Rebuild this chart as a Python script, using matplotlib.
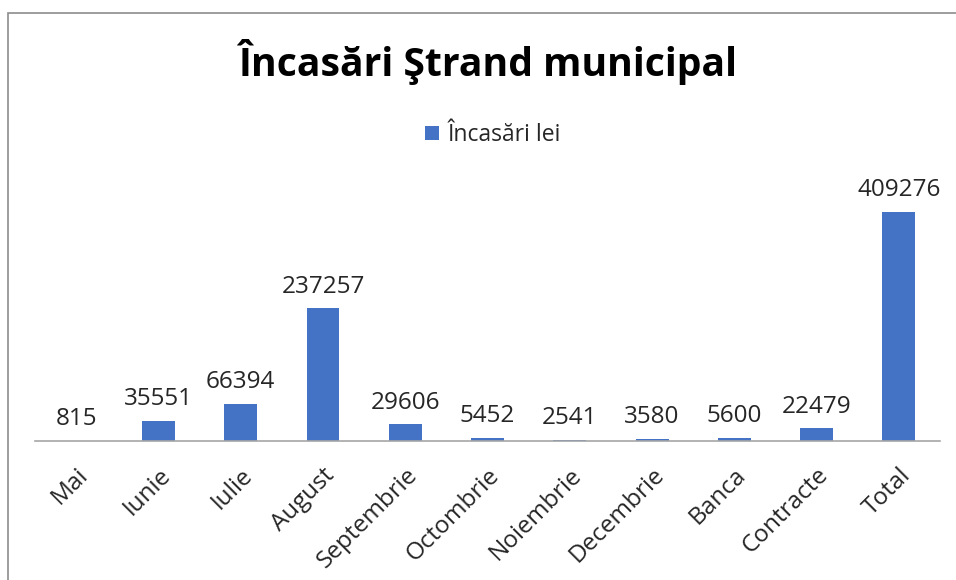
import matplotlib
matplotlib.use("Agg")
import matplotlib.pyplot as plt
from matplotlib.patches import Rectangle

categories = ["Mai", "Iunie", "Iulie", "August", "Septembrie", "Octombrie",
              "Noiembrie", "Decembrie", "Banca", "Contracte", "Total"]
values = [815, 35551, 66394, 237257, 29606, 5452, 2541, 3580, 5600, 22479, 409276]
series_name = "Încasări lei"
title = "Încasări Ştrand municipal"

plt.rcParams['font.family'] = ['Open Sans', 'DejaVu Sans']
fig = plt.figure(figsize=(9.56, 5.8), dpi=100)

# chart border (extends beyond the right/bottom edges)
fig.patches.append(Rectangle((8/956, -0.1), 1.2, (580-12.5)/580 + 0.1,
                             transform=fig.transFigure, fill=False,
                             edgecolor="#8c8c8c", linewidth=1.2))

axes_h_px = 250
ax = fig.add_axes([35/956, (580-441)/580, 905/956, axes_h_px/580])
x = range(len(categories))
bars = ax.bar(x, values, width=0.40, color="#4472C4", label=series_name)
ax.set_xlim(-0.5, len(categories) - 0.5)
ax.set_ylim(0, 446800)
for s in ["top", "right", "left"]:
    ax.spines[s].set_visible(False)
ax.spines["bottom"].set_color("#a6a6a6")
ax.spines["bottom"].set_linewidth(1.2)
ax.set_yticks([])
ax.tick_params(axis="x", length=0, pad=16)
ax.set_xticks(list(x))
ax.set_xticklabels(categories, rotation=45, ha="right", va="top",
                   rotation_mode="anchor", fontsize=17.5, color="#262626")

for xi, v in zip(x, values):
    ax.annotate(str(v), (xi, v), xytext=(0, 7), textcoords="offset points",
                ha="center", va="bottom", fontsize=17.5, color="#262626",
                annotation_clip=False)

fig.text(488/956, (580-62)/580, title, ha="center", va="center",
         fontsize=28.2, fontweight="bold", color="#000000")
fig.legend(loc="center", bbox_to_anchor=(493/956, (580-135)/580), frameon=False,
           fontsize=16.5, handlelength=0.6, handleheight=0.6, handletextpad=0.4,
           labelcolor="#262626")

fig.savefig("out.png", dpi=100)
